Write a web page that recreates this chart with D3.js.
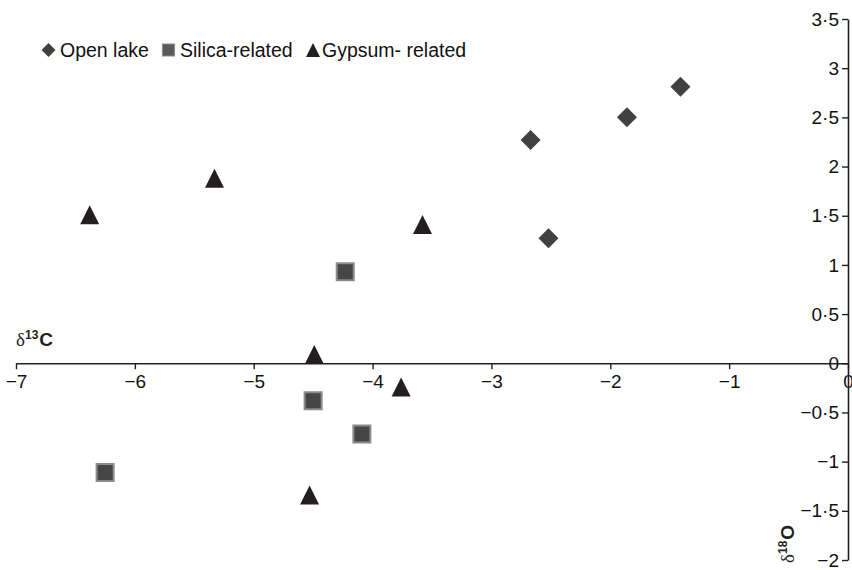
<!DOCTYPE html>
<html>
<head>
<meta charset="utf-8">
<script src="https://cdn.jsdelivr.net/npm/d3@7"></script>
<style>
  body { margin: 0; background: #fff; }
  svg { display: block; font-family: Arial, "Liberation Sans", Helvetica, sans-serif; }
</style>
</head>
<body>
<div id="chart"></div>
<script>
// data
const openLakeX = [-2.67, -1.86, -1.41, -2.52];
const openLakeY = [2.27, 2.50, 2.81, 1.27];
const silicaX = [-4.23, -4.50, -4.09, -6.25];
const silicaY = [0.93, -0.38, -0.72, -1.11];
const gypsumX = [-6.38, -5.33, -3.58, -4.49, -3.76, -4.53];
const gypsumY = [1.51, 1.88, 1.41, 0.09, -0.24, -1.34];
const xTicks = [-7, -6, -5, -4, -3, -2, -1, 0];
const yTicks = [-2, -1.5, -1, -0.5, 0, 0.5, 1, 1.5, 2, 2.5, 3, 3.5];
const legendNames = ["Open lake", "Silica-related", "Gypsum- related"];

const W = 852, H = 570;
const ink = "#231f20";

const svg = d3.select("#chart").append("svg")
    .attr("width", W)
    .attr("height", H);

const x = d3.scaleLinear().domain([-7, 0]).range([16, 848]);
const y = d3.scaleLinear().domain([-2, 3.5]).range([560, 19]);

const fmt = d => (d < 0 ? "\u2212" : "") + String(Math.abs(d)).replace(".", "\u00b7");

// custom marker shapes (size = width in px)
const diamond = { draw(ctx, s) { const r = s / 2; ctx.moveTo(0, -r); ctx.lineTo(r, 0); ctx.lineTo(0, r); ctx.lineTo(-r, 0); ctx.closePath(); } };
const square = { draw(ctx, s) { const r = s / 2; ctx.rect(-r, -r, s, s); } };
const triangle = { draw(ctx, s) { const r = s / 2; ctx.moveTo(0, -r); ctx.lineTo(r, r); ctx.lineTo(-r, r); ctx.closePath(); } };

// x axis through y = 0
const xAxis = svg.append("g")
    .attr("transform", `translate(0,${y(0)})`)
    .call(d3.axisBottom(x).tickValues(xTicks).tickFormat(fmt).tickSize(6).tickSizeOuter(0).tickPadding(5));

// y axis on the right edge at x = 0
const yAxis = svg.append("g")
    .attr("transform", `translate(${x(0)},0)`)
    .call(d3.axisLeft(y).tickValues(yTicks).tickFormat(fmt).tickSize(6).tickSizeOuter(0).tickPadding(3));

[xAxis, yAxis].forEach(g => {
    g.select(".domain").attr("stroke", ink).attr("stroke-width", 1.6);
    g.selectAll(".tick line").attr("stroke", ink).attr("stroke-width", 1.4);
    g.selectAll(".tick text").attr("fill", "#111").style("font-size", "19px").style("font-family", "Arial, 'Liberation Sans', sans-serif");
});

// axis titles
const cLabel = svg.append("text").attr("x", 16).attr("y", 346).attr("fill", ink).style("font-size", "19px");
cLabel.append("tspan").text("\u03b4").style("font-family", "'Liberation Serif', 'DejaVu Serif', serif");
cLabel.append("tspan").text("13").attr("dy", -7).style("font-size", "12px").style("font-weight", "bold");
cLabel.append("tspan").text("C").attr("dy", 7).attr("dx", 1).style("font-weight", "bold");

const oLabel = svg.append("text").attr("transform", "translate(794,563) rotate(-90)").attr("fill", ink).style("font-size", "19px");
oLabel.append("tspan").text("\u03b4").style("font-family", "'Liberation Serif', 'DejaVu Serif', serif");
oLabel.append("tspan").text("18").attr("dy", -7).style("font-size", "12px").style("font-weight", "bold");
oLabel.append("tspan").text("O").attr("dy", 7).attr("dx", 1).style("font-weight", "bold");

// points
svg.append("g").selectAll("path")
    .data(d3.zip(openLakeX, openLakeY))
    .join("path")
    .attr("transform", d => `translate(${x(d[0])},${y(d[1])})`)
    .attr("d", d3.symbol().type(diamond).size(20))
    .attr("fill", "#414141");

svg.append("g").selectAll("path")
    .data(d3.zip(silicaX, silicaY))
    .join("path")
    .attr("transform", d => `translate(${x(d[0])},${y(d[1])})`)
    .attr("d", d3.symbol().type(square).size(17))
    .attr("fill", "#464646")
    .attr("stroke", "#8c8c8c")
    .attr("stroke-width", 2);

svg.append("g").selectAll("path")
    .data(d3.zip(gypsumX, gypsumY))
    .join("path")
    .attr("transform", d => `translate(${x(d[0])},${y(d[1])})`)
    .attr("d", d3.symbol().type(triangle).size(19))
    .attr("fill", ink);

// legend
const legendShapes = [
    { type: diamond, size: 14, fill: "#414141", stroke: "none", cx: 48.5, tx: 60 },
    { type: square, size: 12, fill: "#5a5a5a", stroke: "#8c8c8c", cx: 168.5, tx: 180 },
    { type: triangle, size: 14, fill: ink, stroke: "none", cx: 313, tx: 322 }
];
const legend = svg.append("g");
legendShapes.forEach((s, i) => {
    legend.append("path")
        .attr("transform", `translate(${s.cx},50)`)
        .attr("d", d3.symbol().type(s.type).size(s.size))
        .attr("fill", s.fill)
        .attr("stroke", s.stroke)
        .attr("stroke-width", 1.2);
    legend.append("text")
        .attr("x", s.tx)
        .attr("y", 57)
        .attr("fill", "#111")
        .style("font-size", "19.5px")
        .text(legendNames[i]);
});
</script>
</body>
</html>
